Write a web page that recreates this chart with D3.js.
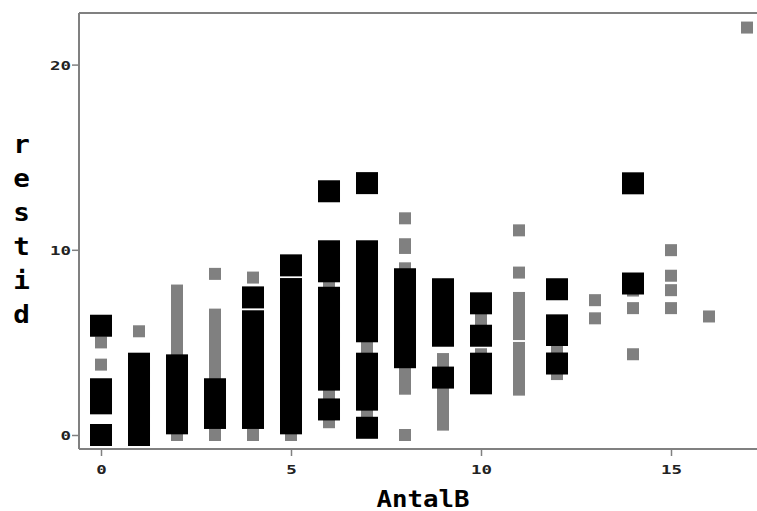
<!DOCTYPE html>
<html>
<head>
<meta charset="utf-8">
<script src="https://cdn.jsdelivr.net/npm/d3@7"></script>
<style>
  html, body { margin: 0; padding: 0; background: #fff; }
  svg { display: block; }
</style>
</head>
<body>
<svg id="chart" width="757" height="511"></svg>
<script>
// Group A observations (small grey squares): AntalB and restid
const antalB_A = [
  0, 0,
  1,
  2, 2, 2, 2, 2, 2, 2, 2, 2,
  3, 3, 3, 3, 3, 3, 3, 3, 3,
  4, 4,
  5,
  6, 6, 6,
  7, 7,
  8, 8, 8, 8, 8, 8, 8, 8,
  9, 9, 9, 9, 9, 9, 9,
  10, 10,
  11, 11, 11, 11, 11, 11, 11, 11, 11, 11, 11, 11,
  12, 12,
  13, 13,
  14, 14, 14,
  15, 15, 15, 15,
  16,
  17
];
const restid_A = [
  5.0, 3.8,
  5.6,
  7.8, 7.3, 6.8, 6.2, 5.7, 5.1, 4.6, 4.0, 0,
  8.7, 6.5, 6.0, 5.4, 4.9, 4.3, 3.7, 3.2, 0,
  8.5, 0,
  0,
  8.15, 2.16, 0.69,
  4.75, 1.2,
  11.7, 10.3, 10.1, 9.0, 3.7, 3.1, 2.5, 0,
  4.1, 3.5, 2.9, 2.3, 1.7, 1.1, 0.56,
  6.24, 4.36,
  11.05, 8.77, 7.4, 6.9, 6.4, 5.9, 5.45, 4.7, 4.1, 3.6, 3.0, 2.45,
  4.6, 3.29,
  7.28, 6.3,
  7.8, 6.85, 4.36,
  9.98, 8.6, 7.82, 6.85,
  6.4,
  22.0
];

// Group B observations (large black squares): AntalB and restid
const antalB_B = [
  0, 0, 0, 0, 0,
  1, 1, 1, 1, 1, 1,
  2, 2, 2, 2, 2,
  3, 3, 3,
  4, 4, 4, 4, 4, 4, 4, 4, 4,
  5, 5, 5, 5, 5, 5, 5, 5, 5, 5, 5,
  6, 6, 6, 6, 6, 6, 6, 6, 6, 6, 6,
  7, 7, 7, 7, 7, 7, 7, 7, 7, 7, 7, 7, 7,
  8, 8, 8, 8, 8, 8, 8,
  9, 9, 9, 9, 9,
  10, 10, 10, 10, 10,
  12, 12, 12, 12,
  14, 14
];
const restid_B = [
  5.9, 2.47, 2.0, 1.71, 0,
  3.85, 3.1, 2.3, 1.5, 0.8, 0,
  3.76, 3.0, 2.2, 1.4, 0.63,
  2.47, 1.7, 0.92,
  7.43, 6.14, 5.4, 4.6, 3.8, 3.0, 2.3, 1.6, 0.92,
  9.16, 7.88, 7.1, 6.3, 5.5, 4.7, 3.9, 3.1, 2.3, 1.5, 0.63,
  13.16, 9.92, 8.84, 7.41, 6.6, 5.8, 5.0, 4.2, 3.5, 2.99, 1.38,
  13.6, 9.92, 9.1, 8.3, 7.5, 6.7, 6.0, 5.6, 3.85, 3.0, 2.4, 1.91, 0.39,
  8.41, 7.6, 6.8, 6.0, 5.2, 4.6, 4.2,
  7.87, 7.0, 6.2, 5.36, 3.1,
  7.11, 5.36, 3.85, 3.3, 2.79,
  7.87, 5.92, 5.4, 3.86,
  13.59, 8.18
];

// Axis tick values and titles
const xTicks = [0, 5, 10, 15];
const yTicks = [0, 10, 20];
const xTitle = "AntalB";
const yTitle = "restid";

const svg = d3.select("#chart");
const plotLeft = 79, plotRight = 757, plotTop = 13, plotBottom = 449;

const x = d3.scaleLinear().domain([-0.579, 17.263]).range([plotLeft, plotRight]);
const y = d3.scaleLinear().domain([-0.756, 22.786]).range([plotBottom, plotTop]);

const axisColor = "#808080";
const labelFont = "'DejaVu Sans Mono', monospace";

// Points: grey group underneath, black group on top
const groupA = antalB_A.map((a, i) => ({ a, r: restid_A[i] }));
const groupB = antalB_B.map((a, i) => ({ a, r: restid_B[i] }));

const plot = svg.append("g");
const sA = 12, sB = 22;
plot.selectAll("rect.a").data(groupA).join("rect")
  .attr("class", "a")
  .attr("x", d => x(d.a) - sA / 2)
  .attr("y", d => y(d.r) - sA / 2)
  .attr("width", sA).attr("height", sA)
  .attr("fill", "#808080");
plot.selectAll("rect.b").data(groupB).join("rect")
  .attr("class", "b")
  .attr("x", d => x(d.a) - sB / 2)
  .attr("y", d => y(d.r) - sB / 2)
  .attr("width", sB).attr("height", sB)
  .attr("fill", "#000");

// Frame: top line and axes
svg.append("line")
  .attr("x1", plotLeft).attr("x2", plotRight + 2)
  .attr("y1", plotTop).attr("y2", plotTop)
  .attr("stroke", axisColor).attr("stroke-width", 2);

const xAxis = svg.append("g")
  .attr("transform", `translate(0,${plotBottom})`)
  .call(d3.axisBottom(x).tickValues(xTicks).tickSize(7).tickSizeOuter(0).tickPadding(9));
const yAxis = svg.append("g")
  .attr("transform", `translate(${plotLeft},0)`)
  .call(d3.axisLeft(y).tickValues(yTicks).tickSize(7).tickSizeOuter(0).tickPadding(1));

[xAxis, yAxis].forEach(g => {
  g.select(".domain").attr("stroke", axisColor).attr("stroke-width", 2);
  g.selectAll(".tick line").attr("stroke", axisColor).attr("stroke-width", 1.5);
  g.selectAll(".tick text")
    .attr("fill", "#222")
    .style("font-family", labelFont)
    .style("font-weight", "bold")
    .style("font-size", "13px")
    .attr("textLength", d => String(d).length * 10.5)
    .attr("lengthAdjust", "spacingAndGlyphs");
});
xAxis.select(".domain").attr("d", `M${plotLeft},0H${plotRight + 2}`);
yAxis.select(".domain").attr("d", `M0,${plotTop}V${plotBottom}`);
yAxis.selectAll(".tick text").attr("dy", "0.35em");

// Axis titles
svg.append("text")
  .attr("x", 423).attr("y", 507)
  .attr("text-anchor", "middle")
  .attr("textLength", 93).attr("lengthAdjust", "spacingAndGlyphs")
  .style("font-family", labelFont).style("font-weight", "bold").style("font-size", "23px")
  .attr("fill", "#000")
  .text(xTitle);

const yTitleG = svg.append("g");
yTitle.split("").forEach((ch, i) => {
  yTitleG.append("text")
    .attr("transform", `translate(21.5,${153 + i * 33.9}) scale(1.15,1)`)
    .attr("text-anchor", "middle")
    .style("font-family", labelFont).style("font-weight", "bold").style("font-size", "24px")
    .attr("fill", "#000")
    .text(ch);
});
</script>
</body>
</html>
